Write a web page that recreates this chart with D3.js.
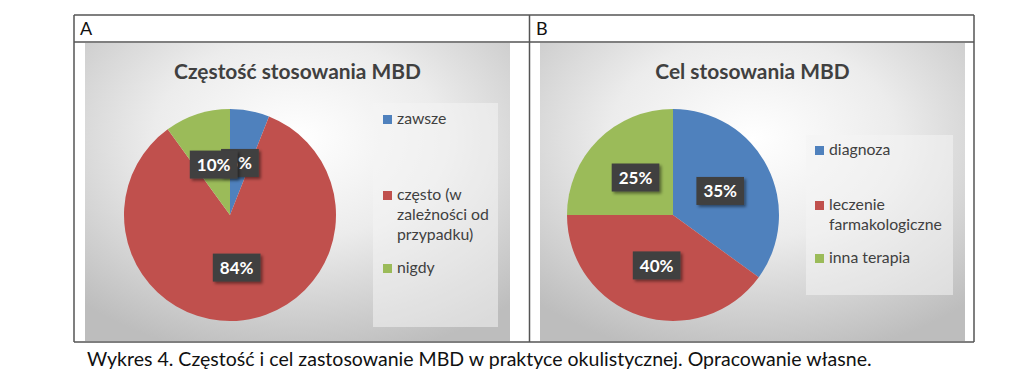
<!DOCTYPE html>
<html><head><meta charset="utf-8">
<script src="https://cdn.jsdelivr.net/npm/d3@7"></script>
<style>
html,body{margin:0;padding:0;background:#fff;}
svg{display:block;}
</style></head>
<body>
<svg id="c" width="1024" height="378"></svg>
<script>
// ---- data ----
const panelLetters = ["A", "B"];
const titles = ["Częstość stosowania MBD", "Cel stosowania MBD"];
const catsA = ["zawsze", "często (w zależności od przypadku)", "nigdy"];
const valsA = [6, 84, 10];
const legendLinesA = [["zawsze"], ["często (w", "zależności od", "przypadku)"], ["nigdy"]];
const catsB = ["diagnoza", "leczenie farmakologiczne", "inna terapia"];
const valsB = [35, 40, 25];
const legendLinesB = [["diagnoza"], ["leczenie", "farmakologiczne"], ["inna terapia"]];
const colors = ["#4f81bd", "#c0504d", "#9bbb59"];
const caption = "Wykres 4. Częstość i cel zastosowanie MBD w praktyce okulistycznej. Opracowanie własne.";

const FONT = "Lato, 'Open Sans', sans-serif";
const svg = d3.select("#c");
const defs = svg.append("defs");

const grad = defs.append("radialGradient").attr("id", "bg")
  .attr("cx", "50%").attr("cy", "32%").attr("r", "75%").attr("fx","50%").attr("fy","32%");
grad.append("stop").attr("offset", "0%").attr("stop-color", "#ffffff");
grad.append("stop").attr("offset", "45%").attr("stop-color", "#ececec");
grad.append("stop").attr("offset", "100%").attr("stop-color", "#bdbdbd");

const sh = defs.append("filter").attr("id", "sh").attr("x", "-30%").attr("y", "-30%").attr("width", "170%").attr("height", "170%");
sh.append("feDropShadow").attr("dx", 2).attr("dy", 2).attr("stdDeviation", 1.6)
  .attr("flood-color", "#000").attr("flood-opacity", 0.45);

function fit(sel, target, base) {
  sel.style("font-size", base + "px");
  const w = sel.node().getComputedTextLength();
  const s = base * target / w;
  sel.style("font-size", s + "px");
  return s;
}

// ---- table frame ----
const frame = svg.append("g");
const T = {x0: 74, x1: 974, xm: 529.5, y0: 15, yh: 42, y1: 342};

// ---- panels ----
const panels = [
  {cats: catsA, vals: valsA, lines: legendLinesA, area: [85, 43, 510, 341], cx: 230, cy: 215,
   legBox: [373, 103, 498, 327], legY: [124, 200, 273], legX: 383, titleW: 247, legRefLine: "zależności od", legRefW: 92},
  {cats: catsB, vals: valsB, lines: legendLinesB, area: [540, 43, 965, 341], cx: 673, cy: 215,
   legBox: [806, 135, 953, 295], legY: [155, 210, 263], legX: 815, titleW: 196, legRefLine: "farmakologiczne", legRefW: 116}
];
const R = 106;

// legend font size from a reference line
const probe = svg.append("text").attr("font-family", FONT).text("zależności od");
const legSize = fit(probe, 92, 16);
probe.remove();
const probe2 = svg.append("text").attr("font-family", FONT).attr("font-weight", "bold").text("Częstość stosowania MBD");
const titleSize = fit(probe2, 247, 20);
probe2.remove();

panels.forEach((p, i) => {
  const g = svg.append("g");
  const [ax0, ay0, ax1, ay1] = p.area;
  g.append("rect").attr("x", ax0).attr("y", ay0).attr("width", ax1 - ax0).attr("height", ay1 - ay0)
    .attr("fill", "url(#bg)");
  // title
  g.append("text").attr("x", (ax0 + ax1) / 2).attr("y", 79).attr("text-anchor", "middle")
    .attr("font-family", FONT).attr("font-weight", "bold").style("font-size", titleSize + "px")
    .attr("fill", "#404040").text(titles[i]);
  // legend box
  const [lx0, ly0, lx1, ly1] = p.legBox;
  g.append("rect").attr("x", lx0).attr("y", ly0).attr("width", lx1 - lx0).attr("height", ly1 - ly0)
    .attr("fill", "#f4f4f4").attr("opacity", 0.55);
  // pie
  const pie = d3.pie().sort(null).value(d => d)(p.vals);
  const arc = d3.arc().innerRadius(0).outerRadius(R);
  const color = d3.scaleOrdinal().domain(p.cats).range(colors);
  const pg = g.append("g").attr("transform", `translate(${p.cx},${p.cy})`);
  pg.selectAll("path").data(pie).join("path").attr("d", arc).attr("fill", (d, j) => color(p.cats[j]));
  // labels
  pie.forEach((d, j) => {
    const [x, y] = arc.centroid(d);
    const lg = pg.append("g").attr("transform", `translate(${x},${y})`);
    const rect = lg.append("rect").attr("fill", "#404040").attr("filter", "url(#sh)");
    const t = lg.append("text").attr("text-anchor", "middle").attr("dy", "0.36em")
      .attr("font-family", FONT).attr("font-weight", "bold").style("font-size", "17px")
      .attr("fill", "#fff").text(p.vals[j] + "%");
    const w = t.node().getComputedTextLength() + 14;
    rect.attr("x", -w / 2).attr("y", -14).attr("width", w).attr("height", 28);
  });
  // legend items
  p.lines.forEach((lines, j) => {
    const y = p.legY[j];
    g.append("rect").attr("x", p.legX).attr("y", y - 9).attr("width", 9).attr("height", 9)
      .attr("fill", color(p.cats[j]));
    lines.forEach((ln, k) => {
      g.append("text").attr("x", p.legX + 14).attr("y", y + k * 20)
        .attr("font-family", FONT).style("font-size", legSize + "px").attr("fill", "#404040").text(ln);
    });
  });
  // panel letter
  svg.append("text").attr("x", i === 0 ? 80 : 536).attr("y", 35)
    .attr("font-family", FONT).style("font-size", "18px").attr("fill", "#111").text(panelLetters[i]);
});

// frame lines on top
const stroke = "#555";
frame.raise();
[[T.x0, T.y0, T.x1, T.y0], [T.x0, T.yh, T.x1, T.yh], [T.x0, T.y1, T.x1, T.y1],
 [T.x0, T.y0, T.x0, T.y1], [T.x1, T.y0, T.x1, T.y1], [T.xm, T.y0, T.xm, T.y1]].forEach(l => {
  frame.append("line").attr("x1", l[0]).attr("y1", l[1]).attr("x2", l[2]).attr("y2", l[3])
    .attr("stroke", stroke).attr("stroke-width", 1.5);
});

// caption
const cap = svg.append("text").attr("x", 87).attr("y", 366).attr("font-family", FONT)
  .attr("fill", "#111").text(caption);
fit(cap, 785, 19);
</script>
</body></html>
